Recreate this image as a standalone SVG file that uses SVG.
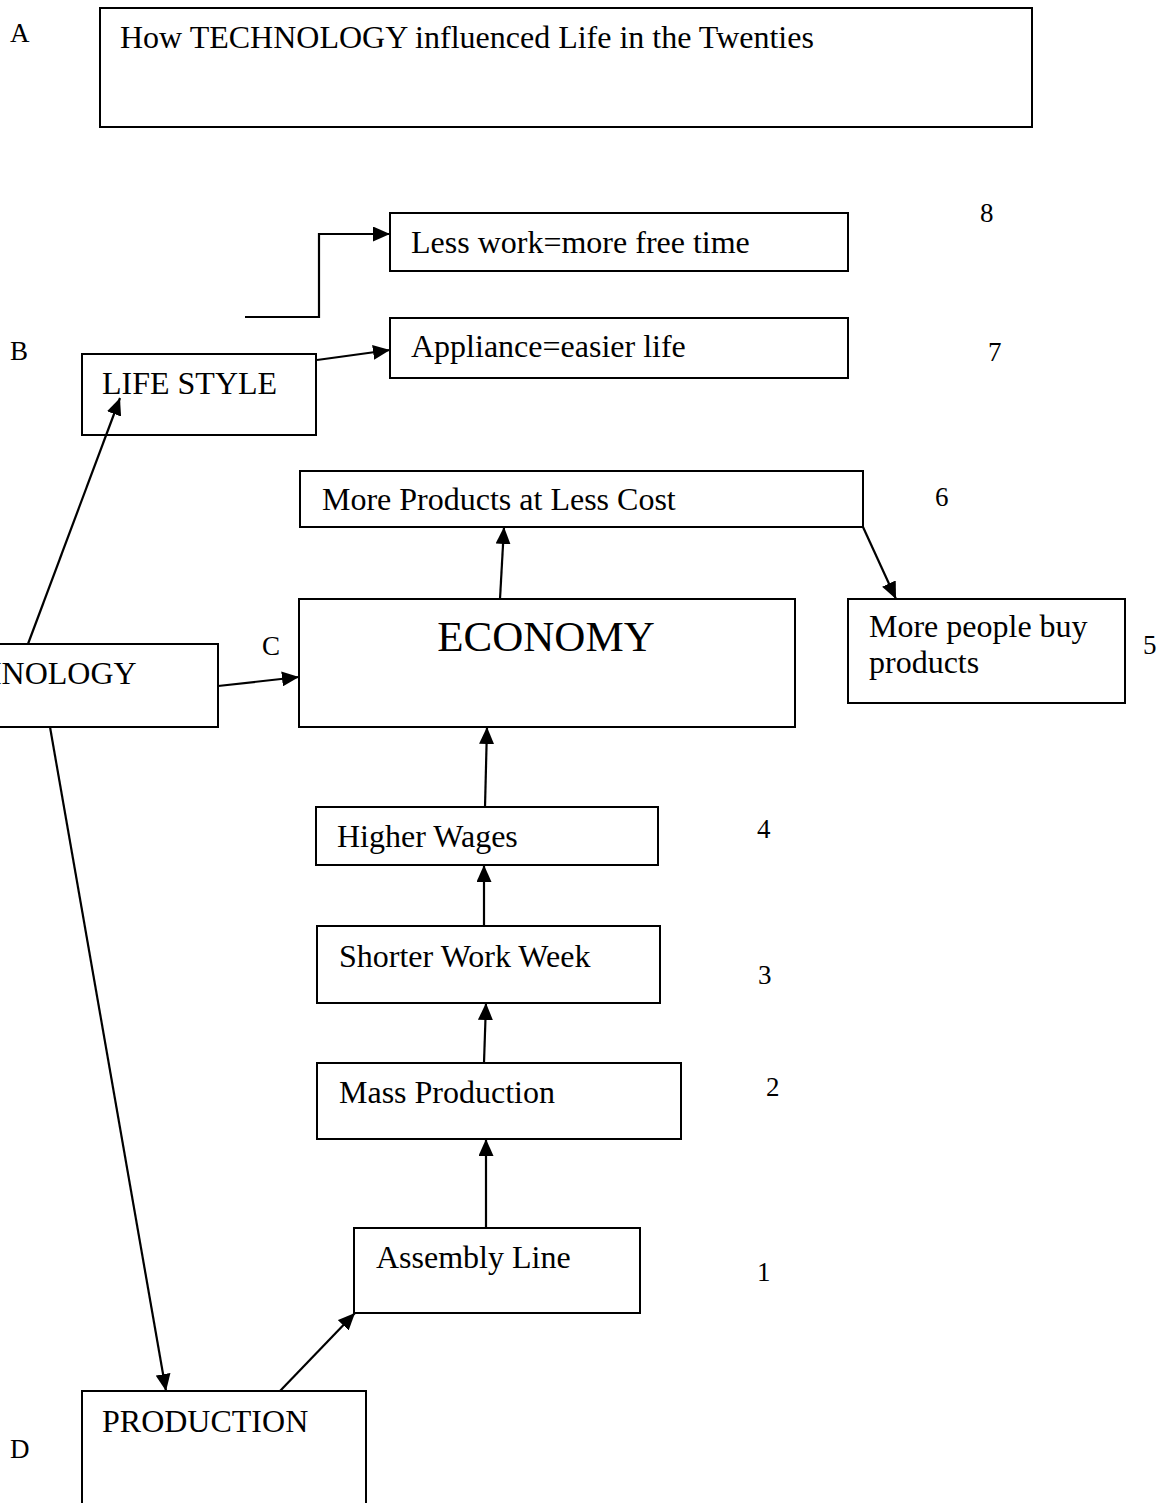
<svg xmlns="http://www.w3.org/2000/svg" width="1160" height="1503" viewBox="0 0 1160 1503">
<style>
  .box { fill: #ffffff; stroke: #000000; stroke-width: 2; }
  .t { font-family: "Liberation Serif", "Times New Roman", serif; font-size: 32px; fill: #000000; }
  .lbl { font-family: "Liberation Serif", "Times New Roman", serif; font-size: 27px; fill: #000000; }
  .big { font-family: "Liberation Serif", "Times New Roman", serif; font-size: 43px; fill: #000000; }
  .con { fill: none; stroke: #000000; stroke-width: 2.2; marker-end: url(#arr); }
</style>
<defs>
  <marker id="arr" markerUnits="userSpaceOnUse" markerWidth="17" markerHeight="15" refX="17" refY="7.5" orient="auto">
    <path d="M0,0 L17,7.5 L0,15 z" fill="#000000"/>
  </marker>
</defs>
<rect width="1160" height="1503" fill="#ffffff"/>

<g id="labels">
  <text class="lbl" x="10" y="42">A</text>
  <text class="lbl" x="10" y="360">B</text>
  <text class="lbl" x="262" y="655">C</text>
  <text class="lbl" x="10" y="1458">D</text>
  <text class="lbl" x="980" y="222">8</text>
  <text class="lbl" x="988" y="361">7</text>
  <text class="lbl" x="935" y="506">6</text>
  <text class="lbl" x="1143" y="654">5</text>
  <text class="lbl" x="757" y="838">4</text>
  <text class="lbl" x="758" y="984">3</text>
  <text class="lbl" x="766" y="1096">2</text>
  <text class="lbl" x="757" y="1281">1</text>
</g>

<g id="title">
  <rect class="box" x="100" y="8" width="932" height="119"/>
  <text class="t" x="120" y="48">How TECHNOLOGY influenced Life in the Twenties</text>
</g>
<g id="less-work">
  <rect class="box" x="390" y="213" width="458" height="58"/>
  <text class="t" x="411" y="253">Less work=more free time</text>
</g>
<g id="appliance">
  <rect class="box" x="390" y="318" width="458" height="60"/>
  <text class="t" x="411" y="357">Appliance=easier life</text>
</g>
<g id="life-style">
  <rect class="box" x="82" y="354" width="234" height="81"/>
  <text class="t" x="102" y="394">LIFE STYLE</text>
</g>
<g id="more-products">
  <rect class="box" x="300" y="471" width="563" height="56"/>
  <text class="t" x="322" y="510">More Products at Less Cost</text>
</g>
<g id="economy">
  <rect class="box" x="299" y="599" width="496" height="128"/>
  <text class="big" x="546" y="651" text-anchor="middle">ECONOMY</text>
</g>
<g id="more-people">
  <rect class="box" x="848" y="599" width="277" height="104"/>
  <text class="t" x="869" y="637">More people buy</text>
  <text class="t" x="869" y="673">products</text>
</g>
<g id="technology">
  <rect class="box" x="-102" y="644" width="320" height="83"/>
  <text class="t" x="-82" y="684">TECHNOLOGY</text>
</g>
<g id="higher-wages">
  <rect class="box" x="316" y="807" width="342" height="58"/>
  <text class="t" x="337" y="847">Higher Wages</text>
</g>
<g id="shorter-work-week">
  <rect class="box" x="317" y="926" width="343" height="77"/>
  <text class="t" x="339" y="967">Shorter Work Week</text>
</g>
<g id="mass-production">
  <rect class="box" x="317" y="1063" width="364" height="76"/>
  <text class="t" x="339" y="1103">Mass Production</text>
</g>
<g id="assembly-line">
  <rect class="box" x="354" y="1228" width="286" height="85"/>
  <text class="t" x="376" y="1268">Assembly Line</text>
</g>
<g id="production">
  <rect class="box" x="82" y="1391" width="284" height="130"/>
  <text class="t" x="102" y="1432">PRODUCTION</text>
</g>

<g id="connectors">
  <path class="con" d="M245,317 H319 V234 H390"/>
  <path class="con" d="M317,360 L390,350"/>
  <path class="con" d="M28,644 L120,398"/>
  <path class="con" d="M218,686 L299,677"/>
  <path class="con" d="M50,727 L166,1391"/>
  <path class="con" d="M500,599 L504,527"/>
  <path class="con" d="M863,527 L896,599"/>
  <path class="con" d="M485,807 L487,727"/>
  <path class="con" d="M484,926 L484,865"/>
  <path class="con" d="M484,1063 L486,1003"/>
  <path class="con" d="M486,1228 L486,1139"/>
  <path class="con" d="M280,1391 L355,1313"/>
</g>
</svg>
